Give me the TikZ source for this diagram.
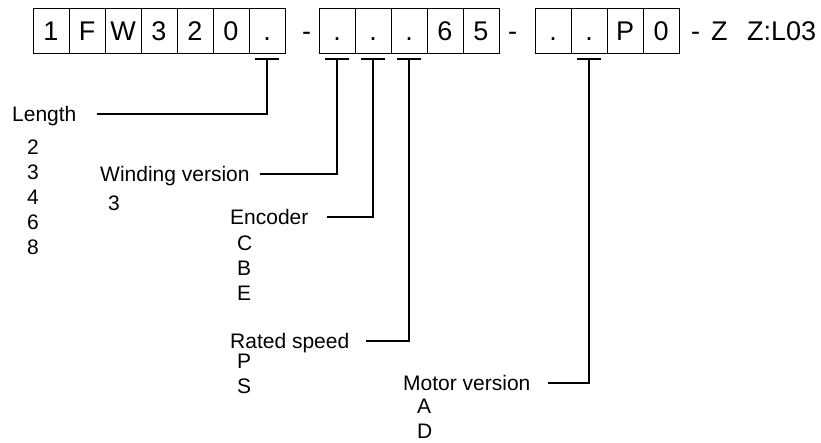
\documentclass[tikz,border=0pt]{standalone}
\usepackage{fontspec}
\setmainfont{Liberation Sans}
\usetikzlibrary{positioning}

\begin{document}
\begin{tikzpicture}[
  x=1pt, y=-1pt,
  node distance=0pt,
  box/.style={rectangle, draw, line width=0.8pt, minimum width=36pt, minimum height=45pt, inner sep=0pt, outer sep=0pt, text height=19.3pt, text depth=0pt, font=\fontsize{27}{32}\selectfont},
  code/.style={anchor=base west, inner sep=0pt, font=\fontsize{27}{32}\selectfont},
  head/.style={anchor=west, inner sep=0pt, text height=15pt, text depth=0pt, font=\fontsize{21}{25}\selectfont},
  vals/.style={anchor=north west, align=left, inner sep=0pt, font=\fontsize{21}{25}\selectfont},
  lead/.style={line width=1.4pt},
]
  \useasboundingbox (0,0) rectangle (821,442);

  % type code
  \node[box, anchor=north west] (c1) at (33,8) {1};
  \node[box, right=of c1] (c2) {F};
  \node[box, right=of c2] (c3) {W};
  \node[box, right=of c3] (c4) {3};
  \node[box, right=of c4] (c5) {2};
  \node[box, right=of c5] (c6) {0};
  \node[box, right=of c6] (c7) {.};
  \node[code] (h1) at (302,40) {-};

  \node[box, anchor=north west] (d1) at (319,8) {.};
  \node[box, right=of d1] (d2) {.};
  \node[box, right=of d2] (d3) {.};
  \node[box, right=of d3] (d4) {6};
  \node[box, right=of d4] (d5) {5};
  \node[code] (h2) at (508,40) {-};

  \node[box, anchor=north west] (m1) at (535,8) {.};
  \node[box, right=of m1] (m2) {.};
  \node[box, right=of m2] (m3) {P};
  \node[box, right=of m3] (m4) {0};
  \node[code] (h3) at (691,40) {-};
  \node[code] (zz) at (711,40) {Z};
  \node[code] (opt) at (747,40) {Z:L03};

  % headings and options
  \node[head] (len) at (12,114) {Length};
  \node[vals] (lenval) at (27,140) {2\\3\\4\\6\\8};
  \node[head] (wind) at (100,174) {Winding version};
  \node[vals] (windval) at (108,196) {3};
  \node[head] (enc) at (230,217) {Encoder};
  \node[vals] (encval) at (237,236) {C\\B\\E};
  \node[head] (speed) at (230,341) {Rated speed};
  \node[vals] (speedval) at (237,354) {P\\S};
  \node[head] (motver) at (403,383) {Motor version};
  \node[vals] (motval) at (417,399) {A\\D};

  % tee marks
  \coordinate (t1) at ([yshift=-6pt]c7.south);
  \coordinate (t2) at ([yshift=-6pt]d1.south);
  \coordinate (t3) at ([yshift=-6pt]d2.south);
  \coordinate (t4) at ([yshift=-6pt]d3.south);
  \coordinate (t5) at ([yshift=-6pt]m2.south);
  \foreach \t in {t1,t2,t3,t4,t5}
    \draw[lead] ([xshift=-12pt]\t) -- ([xshift=12pt]\t);

  \draw[lead] ([xshift=20pt]len.east) -| (t1);
  \draw[lead] ([xshift=10pt]wind.east) -| (t2);
  \draw[lead] ([xshift=18pt]enc.east) -| (t3);
  \draw[lead] ([xshift=17pt]speed.east) -| (t4);
  \draw[lead] ([xshift=17pt]motver.east) -| (t5);
\end{tikzpicture}
\end{document}
